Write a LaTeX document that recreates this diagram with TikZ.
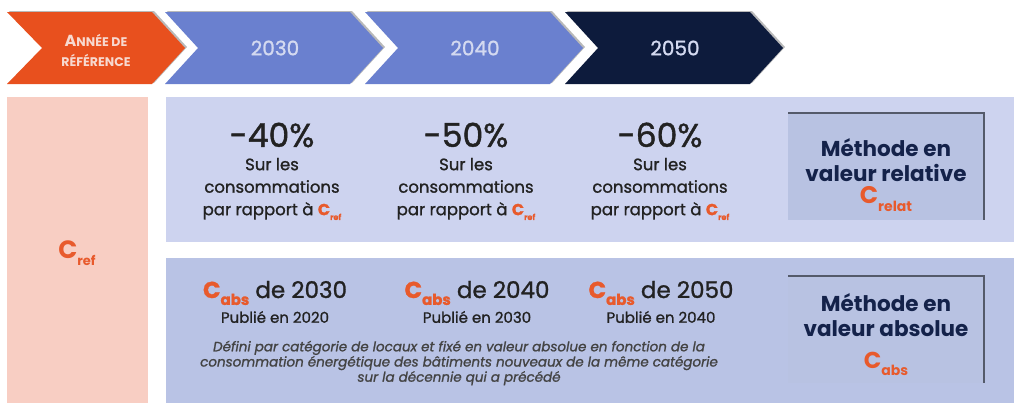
\documentclass[tikz,border=0pt]{standalone}
\usepackage{fontspec}
\setmainfont{Poppins}
\newfontfamily\medfont{Poppins}[FakeBold=1.2]
\usepackage{xcolor}
\usetikzlibrary{positioning}
\definecolor{refor}{HTML}{E8501E}
\definecolor{crefor}{HTML}{E85A2C}
\definecolor{chevblue}{HTML}{6A80CF}
\definecolor{chevnavy}{HTML}{0D1B3C}
\definecolor{hdtext}{HTML}{D3D9F0}
\definecolor{hdref}{HTML}{F7D9D0}
\definecolor{refpink}{HTML}{F8CEC3}
\definecolor{panelrel}{HTML}{CDD3EF}
\definecolor{panelabs}{HTML}{B9C3E5}
\definecolor{methfill}{HTML}{B8C2E2}
\definecolor{methdark}{HTML}{14224A}
\definecolor{txtdark}{HTML}{222222}
\newcommand{\Cidx}[3]{\textcolor{crefor}{\fontsize{#1}{#1}\selectfont\textbf{C}\raisebox{-0.3em}{\fontsize{#2}{#2}\selectfont\textbf{#3}}}}
\tikzset{
  hdr/.style    = {text=hdtext, font=\fontsize{20}{20}\medfont, inner sep=0pt},
  hdrref/.style = {text=hdref, font=\fontsize{12.5}{20}\selectfont\bfseries, align=center, inner sep=0pt},
  panel/.style  = {rectangle, anchor=north west, inner sep=0pt},
  pct/.style    = {text=txtdark, font=\fontsize{33}{33}\medfont, inner sep=0pt},
  reltxt/.style = {text=txtdark, font=\fontsize{16.5}{22.5}\medfont, align=center, inner sep=0pt},
  abshd/.style  = {text=txtdark, font=\fontsize{23}{23}\medfont, inner sep=0pt},
  pub/.style    = {text=txtdark, font=\fontsize{15}{15}\medfont, inner sep=0pt},
  deftxt/.style = {text=txtdark!85, font=\fontsize{13.5}{14}\medfont\itshape, align=center, inner sep=0pt},
  methbox/.style= {rectangle, fill=methfill, anchor=north west, inner sep=0pt,
                   minimum width=196, minimum height=107},
  methtxt/.style= {text=methdark, font=\fontsize{21.5}{25}\selectfont\bfseries, align=center, inner sep=0pt},
}
\begin{document}
\begin{tikzpicture}[x=1pt, y=-1pt]
  \useasboundingbox (0,0) rectangle (1024,415);
  % frise des annees
  \fill[gray!55, shift={(2,-1)}] (7,12) -- (152,12) -- (185,48) -- (152,84) -- (7,84) -- (42,48) -- cycle;
  \fill[refor] (7,12) -- (152,12) -- (185,48) -- (152,84) -- (7,84) -- (42,48) -- cycle;
  \node[hdrref] (anref) at (96,50) {{\fontsize{16}{16}\selectfont A}NNÉE DE\\ RÉFÉRENCE};
  \foreach \xo/\yr/\col in {165/2030/chevblue, 365/2040/chevblue, 565/2050/chevnavy} {
    \fill[gray!55, shift={(2,-1)}] (\xo,12) -- ++(185,0) -- ++(33,36) -- ++(-33,36) -- ++(-185,0) -- ++(33,-36) -- cycle;
    \fill[\col] (\xo,12) -- ++(185,0) -- ++(33,36) -- ++(-33,36) -- ++(-185,0) -- ++(33,-36) -- cycle;
    \node[hdr] (yr\yr) at (\xo+110,48) {\yr};
  }
  % colonne de reference et panneaux
  \node[panel, fill=refpink, minimum width=141, minimum height=306] (pref) at (7,97) {};
  \node (cref) at (77,253) {\Cidx{25}{13}{ref}};
  \node[panel, fill=panelrel, minimum width=848, minimum height=145] (prel) at (166,97) {};
  \node[panel, fill=panelabs, minimum width=848, minimum height=145] (pabs) at (166,258) {};
  % valeur relative
  \foreach \cx/\pc [count=\i] in {272/40, 466/50, 660/60} {
    \node[pct] (pct\i) at (\cx,135) {-\pc\%};
    \node[reltxt] (rel\i) at (\cx,189) {Sur les\\ consommations\\ par rapport à \Cidx{16}{8}{ref}};
  }
  \node[methbox] (mrel) at (788,113) {};
  \draw[gray!60!methdark, line width=2pt] (mrel.north west) -- (mrel.north east) -- (mrel.south east);
  \node[methtxt] (mreltxt) at (886,160) {Méthode en\\ valeur relative};
  \node (crelat) at (886,199) {\Cidx{24}{14}{relat}};
  % valeur absolue
  \foreach \cx/\yr/\pb [count=\i] in {275/2030/2020, 477/2040/2030, 661/2050/2040} {
    \node[abshd] (abs\i) at (\cx,293) {\Cidx{23}{15}{abs} de \yr};
    \node[pub] (pub\i) at (\cx,317) {Publié en \pb};
  }
  \node[deftxt] (def) at (459,363) {Défini par catégorie de locaux et fixé en valeur absolue en fonction de la\\ consommation énergétique des bâtiments nouveaux de la même catégorie\\ sur la décennie qui a précédé};
  \node[methbox] (mabs) at (788,276) {};
  \draw[gray!60!methdark, line width=2pt] (mabs.north west) -- (mabs.north east) -- (mabs.south east);
  \node[methtxt] (mabstxt) at (886,315) {Méthode en\\ valeur absolue};
  \node (cabs) at (886,364) {\Cidx{23}{14}{abs}};
\end{tikzpicture}
\end{document}
